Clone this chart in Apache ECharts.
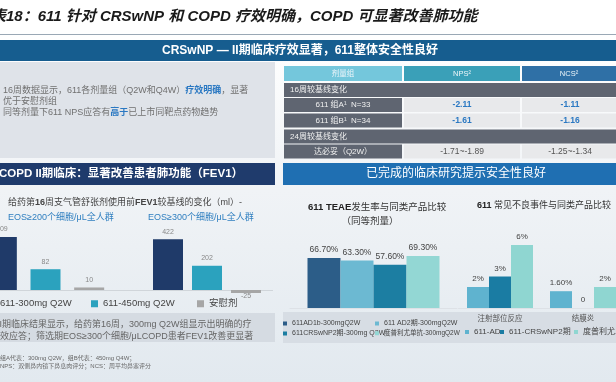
<!DOCTYPE html>
<html><head><meta charset="utf-8">
<script src="https://cdn.jsdelivr.net/npm/echarts@6/dist/echarts.min.js"></script>
<style>html,body{margin:0;padding:0;background:#fff}#c{width:616px;height:382px}</style>
</head><body><div id="c"></div>
<script>
// ---------- data ----------
const fevGroups = ['611-300mg Q2W', '611-450mg Q2W', '安慰剂'];
const fevEos200 = [209, 82, 10];
const fevEos300 = [422, 202, -25];
const teaeNames = ['611AD1b-300mgQ2W', '611 AD2期-300mgQ2W', '611CRSwNP2期-300mg Q2W', '度普利尤单抗-300mgQ2W'];
const teaeValues = [66.7, 63.3, 57.6, 69.3];
const aeCategories = ['注射部位反应', '结膜炎'];
const aeNames = ['611-AD', '611-CRSwNP2期', '度普利尤单抗'];
const aeValues = [[2, 1.6], [3, 0], [6, 2]];
const tableHeader = ['剂量组', 'NPS²', 'NCS²'];
const tableRows = [
  ['16周较基线变化'],
  ['611 组A¹  N=33', '-2.11', '-1.11'],
  ['611 组B¹  N=34', '-1.61', '-1.16'],
  ['24周较基线变化'],
  ['达必妥（Q2W）', '-1.71~-1.89', '-1.25~-1.34']
];

// ---------- styles ----------
const FONT = '"Liberation Sans","Noto Sans CJK SC",sans-serif';
const fevColors = ['#1f3a69', '#2ba2be', '#a6a6a6'];
const teaeColors = ['#2c5d88', '#6cb9d2', '#1c7ea2', '#93d7d4'];
const aeColors = ['#5fb3cf', '#1a7ca3', '#8fd6d1'];

const els = [];
function rect(x, y, w, h, fill) {
  els.push({type: 'rect', shape: {x, y, width: w, height: h}, style: {fill}, silent: true, z: 0});
}
function line(x1, y1, x2, y2, stroke) {
  els.push({type: 'line', shape: {x1, y1, x2, y2}, style: {stroke, lineWidth: 1}, silent: true, z: 0});
}
function text(x, y, t, opt) {
  els.push({type: 'text', x, y, silent: true, z: 1,
    style: Object.assign({text: t, fill: '#333', fontSize: 9, fontFamily: FONT, align: 'left', verticalAlign: 'middle'}, opt || {})});
}

// title
text(-9, 17, '表18：611 针对 CRSwNP 和 COPD 疗效明确，COPD 可显著改善肺功能',
  {fontSize: 15, fontWeight: 'bold', fontStyle: 'italic', fill: '#1a1a1a'});
line(0, 34.5, 616, 34.5, '#9aa8b5');
// top band
rect(0, 40, 616, 21, '#165d8f');
text(300, 50.5, 'CRSwNP — II期临床疗效显著，611整体安全性良好', {fontSize: 12, fontWeight: 'bold', fill: '#fff', align: 'center'});
// left text panel
rect(0, 62, 275, 96, '#dfe3e9');
text(3, 91, '16周数据显示，611各剂量组（Q2W和Q4W）{b|疗效明确}，显著', {fontSize: 9, fill: '#707070',
  rich: {b: {fontSize: 9, fill: '#2a78c2', fontWeight: 'bold', fontFamily: FONT}}});
text(3, 101.5, '优于安慰剂组', {fontSize: 9, fill: '#707070'});
text(3, 113, '同等剂量下611 NPS应答有{b|高于}已上市同靶点药物趋势', {fontSize: 9, fill: '#707070',
  rich: {b: {fontSize: 9, fill: '#2a78c2', fontWeight: 'bold', fontFamily: FONT}}});

// table
const cols = [{x: 284, w: 118}, {x: 404, w: 116}, {x: 522, w: 94}];
const headColors = ['#74c7dc', '#3aa0b8', '#2f70a6'];
cols.forEach((c, i) => {
  rect(c.x, 66, c.w, 15, headColors[i]);
  text(c.x + c.w / 2, 73.5, tableHeader[i], {fontSize: 7.5, fill: '#eef6fa', align: 'center'});
});
const rowY = [83, 98, 113.5, 129.5, 144.5];
tableRows.forEach((r, k) => {
  const y = rowY[k], h = 14;
  if (r.length === 1) {
    rect(284, y, 332, h, '#5f6571');
    text(290, y + h / 2, r[0], {fontSize: 8, fill: '#f0f0f0'});
  } else {
    rect(cols[0].x, y, cols[0].w, h, '#5f6571');
    rect(cols[1].x, y, cols[1].w, h, '#e8e9eb');
    rect(cols[2].x, y, cols[2].w, h, '#e8e9eb');
    text(cols[0].x + cols[0].w / 2, y + h / 2, r[0], {fontSize: 8, fill: '#f0f0f0', align: 'center'});
    const hl = k < 3;
    [1, 2].forEach(ci => text(cols[ci].x + cols[ci].w / 2 + (ci === 2 ? 1 : 0), y + h / 2, r[ci],
      {fontSize: 8.5, align: 'center', fill: hl ? '#2a78c2' : '#555', fontWeight: hl ? 'bold' : 'normal'}));
  }
});

// section bands
rect(0, 163, 275, 22, '#1f3b6c');
text(-1, 174, 'COPD II期临床：显著改善患者肺功能（FEV1）', {fontSize: 11.5, fontWeight: 'bold', fill: '#fff'});
rect(283, 163, 333, 22, '#1f6fb2');
text(456, 174, '已完成的临床研究提示安全性良好', {fontSize: 12, fill: '#fff', align: 'center'});

// FEV1 texts
text(8, 203, '给药第{b|16}周支气管舒张剂使用前{b|FEV1}较基线的变化（ml）-', {fontSize: 9, fill: '#444',
  rich: {b: {fontSize: 9, fill: '#444', fontWeight: 'bold', fontFamily: FONT}}});
text(8, 218, 'EOS≥200个细胞/μL全人群', {fontSize: 9, fill: '#2f7fc0'});
text(148, 218, 'EOS≥300个细胞/μL全人群', {fontSize: 9, fill: '#2f7fc0'});
line(0, 290.5, 273, 290.5, '#d0d5da');

// bottom-left panel
rect(0, 313, 275, 29, '#d5dbe2');
text(-3, 325, 'II期临床结果显示，给药第16周，300mg Q2W组显示出明确的疗', {fontSize: 9, fill: '#666'});
text(0, 337, '效应答；筛选期EOS≥300个细胞/μLCOPD患者FEV1改善更显著', {fontSize: 9, fill: '#666'});
text(0, 358, '组A代表：300mg Q2W，组B代表：450mg Q4W；', {fontSize: 6, fill: '#666'});
text(0, 366, 'NPS：双侧鼻内镜下鼻息肉评分；NCS：周平均鼻塞评分', {fontSize: 6, fill: '#666'});

// right charts texts
text(308, 207.5, '{b|611 TEAE}发生率与同类产品比较', {fontSize: 9.5, fill: '#333',
  rich: {b: {fontSize: 9.5, fill: '#222', fontWeight: 'bold', fontFamily: FONT}}});
text(370, 221.5, '（同等剂量）', {fontSize: 9.5, fill: '#333', align: 'center'});
text(477, 206, '{b|611} 常见不良事件与同类产品比较', {fontSize: 9, fill: '#333',
  rich: {b: {fontSize: 9, fill: '#222', fontWeight: 'bold', fontFamily: FONT}}});
rect(283, 312, 333, 31, '#d7dde4');

// ---------- chart ----------
function leg(name, left, top, fs, icon) {
  return {data: [name], left, top, padding: 0, itemWidth: icon, itemHeight: icon, icon: 'rect',
    selectedMode: false, textStyle: {fontSize: fs, color: '#444', fontFamily: FONT}};
}
const series = [];
fevGroups.forEach((g, i) => {
  [fevEos200, fevEos300].forEach((arr, gi) => {
    series.push({type: 'bar', name: g, xAxisIndex: gi, yAxisIndex: gi, barWidth: 30, barGap: '-100%',
      data: arr.map((v, j) => j === i ? (v < 0 ? {value: v, label: {position: 'bottom', distance: 0}} : v) : '-'),
      itemStyle: {color: fevColors[i]},
      label: {show: true, position: 'top', distance: 4, fontSize: 7, color: '#888', fontFamily: FONT}});
  });
});
teaeNames.forEach((n, i) => series.push({type: 'bar', name: n, xAxisIndex: 2, yAxisIndex: 2, barWidth: 33, barGap: '0%',
  data: [teaeValues[i]], itemStyle: {color: teaeColors[i]},
  label: {show: true, position: 'top', distance: 4, fontSize: 8.5, color: '#444', fontFamily: FONT,
    formatter: p => p.value.toFixed(2) + '%'}}));
aeNames.forEach((n, i) => series.push({type: 'bar', name: n, xAxisIndex: 3, yAxisIndex: 3, barWidth: 22, barGap: '0%',
  data: aeValues[i], itemStyle: {color: aeColors[i]},
  label: {show: true, position: 'top', distance: 4, fontSize: 8, color: '#444', fontFamily: FONT,
    formatter: p => p.value === 0 ? '0' : (Number.isInteger(p.value) ? p.value + '%' : p.value.toFixed(2) + '%')}}));

const hiddenY = (min, max) => ({type: 'value', min, max, show: false});
const option = {
  animation: false,
  backgroundColor: {type: 'linear', x: 0, y: 0, x2: 0, y2: 1, colorStops: [
    {offset: 0, color: '#ffffff'}, {offset: 0.1, color: '#ffffff'}, {offset: 0.5, color: '#f0f3f6'}, {offset: 1, color: '#e2e9ef'}]},
  grid: [
    {left: -20, top: 214, width: 131, height: 76, outerBoundsMode: 'none'},
    {left: 148.5, top: 230, width: 117, height: 72, outerBoundsMode: 'none'},
    {left: 290, top: 233, width: 167, height: 75, outerBoundsMode: 'none'},
    {left: 458.5, top: 224, width: 166, height: 84, outerBoundsMode: 'none'}
  ],
  xAxis: [
    {gridIndex: 0, type: 'category', data: fevGroups, show: false},
    {gridIndex: 1, type: 'category', data: fevGroups, show: false},
    {gridIndex: 2, type: 'category', data: ['TEAE'], axisTick: {show: false}, axisLabel: {show: false},
      axisLine: {lineStyle: {color: '#dde1e6'}}},
    {gridIndex: 3, type: 'category', data: aeCategories, axisTick: {show: false},
      axisLine: {lineStyle: {color: '#dde1e6'}},
      axisLabel: {fontSize: 7.5, color: '#555', margin: 7, fontFamily: FONT}}
  ],
  yAxis: [
    Object.assign(hiddenY(0, 300), {gridIndex: 0}),
    Object.assign(hiddenY(-100, 500), {gridIndex: 1}),
    Object.assign(hiddenY(0, 100), {gridIndex: 2}),
    Object.assign(hiddenY(0, 8), {gridIndex: 3})
  ],
  legend: [
    leg(fevGroups[0], -12, 299, 9.5, 7),
    leg(fevGroups[1], 91, 299, 9.5, 7),
    leg(fevGroups[2], 197, 299, 9.5, 7),
    leg(teaeNames[0], 283, 320, 7, 4),
    leg(teaeNames[1], 375, 320, 7, 4),
    leg(teaeNames[2], 283, 330, 7, 4),
    leg(teaeNames[3], 375, 330, 6.5, 4),
    leg(aeNames[0], 465, 328, 8, 4),
    leg(aeNames[1], 500, 328, 8, 4),
    leg(aeNames[2], 574, 328, 8, 4)
  ],
  graphic: {elements: els},
  series
};
const chart = echarts.init(document.getElementById('c'), null, {renderer: 'canvas'});
chart.setOption(option);
</script>
</body></html>
